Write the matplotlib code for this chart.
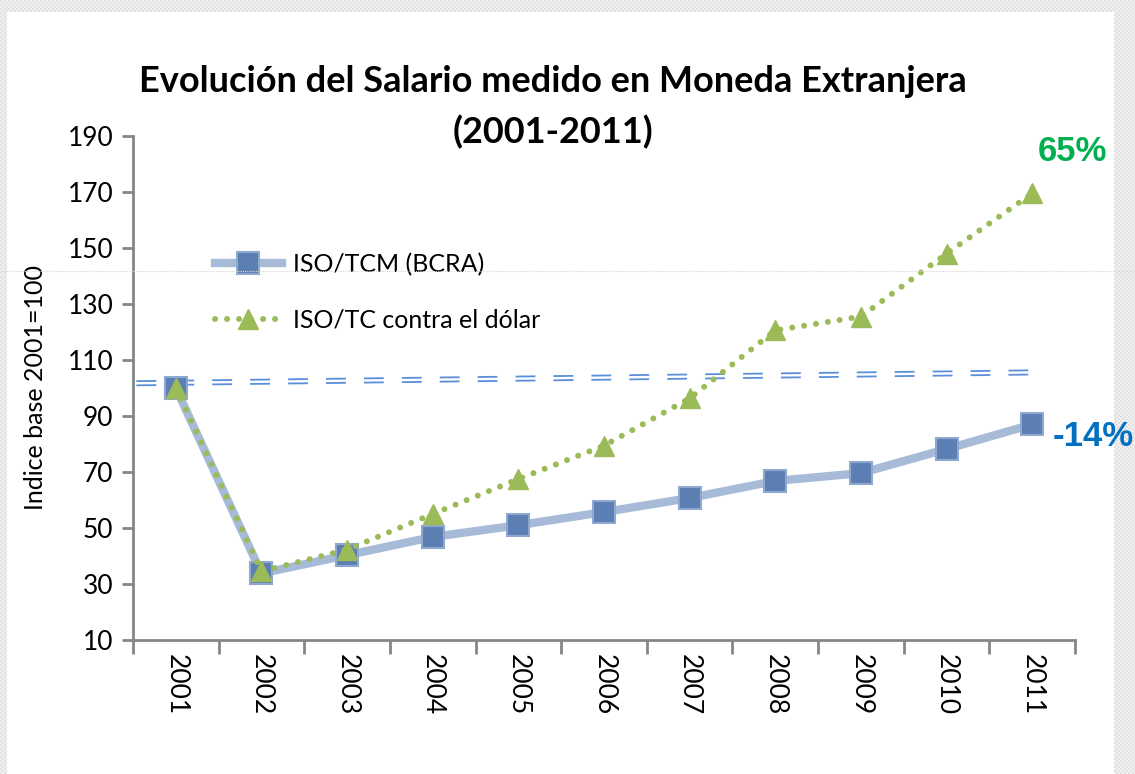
import numpy as np
import matplotlib
matplotlib.use("Agg")
import matplotlib.pyplot as plt
from matplotlib.lines import Line2D

# datos (indice base 2001=100)
anios = ["2001", "2002", "2003", "2004", "2005", "2006",
         "2007", "2008", "2009", "2010", "2011"]
iso_tcm = [100, 33.8, 40.3, 46.8, 51.0, 55.7, 60.7, 66.8, 69.6, 78.2, 87.0]
iso_tc_dolar = [100, 34.5, 42.3, 55.0, 67.5, 79.4, 96.3, 120.6, 125.5, 148.0, 169.5]
# linea de tendencia (doble, discontinua)
tend_x = [-0.46, 10.1]
tend_y = [101.7, 105.6]
etiqueta_verde = "65%"
etiqueta_azul = "-14%"

W, H = 1135, 774
fig = plt.figure(figsize=(W / 100, H / 100), dpi=100)

# borde gris cuadriculado del fondo
bg = np.ones((H, W, 3))
yy, xx = np.mgrid[0:H, 0:W]
patron = np.where(((xx // 2) + (yy // 2)) % 2 == 0, 0.88, 0.95)
borde = (xx < 7) | (yy < 12) | (xx >= 1114)
for c in range(3):
    bg[..., c] = np.where(borde, patron, 1.0)
fig.figimage(bg, xo=0, yo=0, origin="upper", zorder=-5)

fuente = ["Lato", "DejaVu Sans"]

ax = fig.add_axes([133 / W, (H - 640) / H, 942 / W, 504 / H])
ax.set_facecolor("none")
x = np.arange(len(anios))

# tendencia doble
for d in (-0.75, 0.75):
    ax.plot(tend_x, [v + d for v in tend_y], color="#5B8FD9", lw=1.3,
            ls=(0, (11, 10)), zorder=2)

ax.plot(x, iso_tcm, color="#A7BBD8", lw=6, marker="s", markersize=16,
        markerfacecolor="#5C7FB3", markeredgecolor="#8EA8CF", markeredgewidth=1.5,
        label="ISO/TCM (BCRA)", zorder=3)
ax.plot(x, iso_tc_dolar, color="#9BBB59", lw=4.3, ls=(0, (0.01, 2.0)),
        dash_capstyle="round", marker="^", markersize=14,
        markerfacecolor="#9BBB59", markeredgecolor="#9BBB59",
        label="ISO/TC contra el dólar", zorder=4)

ax.set_ylim(10, 190)
ax.set_yticks(range(10, 191, 20))
ax.set_xlim(-0.5, len(anios) - 0.5)
ax.set_xticks(np.arange(-0.5, len(anios), 1.0))
ax.set_xticklabels([])
ax.set_xticks(x, minor=True)
ax.set_xticklabels(anios, minor=True, rotation=270, fontsize=19, family=fuente)
ax.tick_params(axis="x", which="major", length=10, width=2, color="#868686")
ax.tick_params(axis="x", which="minor", length=0, pad=10)
ax.tick_params(axis="y", length=8, width=2, color="#868686", pad=6)
for lab in ax.get_yticklabels():
    lab.set_fontsize(19)
    lab.set_family(fuente)

for s in ("top", "right"):
    ax.spines[s].set_visible(False)
for s in ("left", "bottom"):
    ax.spines[s].set_color("#868686")
    ax.spines[s].set_linewidth(2)

ax.set_ylabel("Indice base 2001=100", fontsize=18, family=fuente, labelpad=15)

leg = ax.legend(loc="upper left", bbox_to_anchor=(192 / W, (H - 230) / H),
                bbox_transform=fig.transFigure, frameon=False,
                handlelength=2.7, labelspacing=1.3, handletextpad=0.45,
                prop={"family": fuente, "size": 18})

ax.text(10.47, 184.3, etiqueta_verde, color="#00B050", fontsize=25,
        fontweight="bold", family="Liberation Sans", ha="center", va="center",
        clip_on=False)
ax.text(10.71, 82.5, etiqueta_azul, color="#0070C0", fontsize=25,
        fontweight="bold", family="Liberation Sans", ha="center", va="center",
        clip_on=False)

fig.text(553 / W, 1 - 82 / H, "Evolución del Salario medido en Moneda Extranjera",
         fontsize=26, fontweight="bold", family=fuente, ha="center", va="center")
fig.text(553 / W, 1 - 132 / H, "(2001-2011)",
         fontsize=26, fontweight="bold", family=fuente, ha="center", va="center")

# linea gris tenue que cruza la imagen
fig.add_artist(Line2D([0, 1], [1 - 271 / H] * 2, transform=fig.transFigure,
                      color="#D9D9D9", lw=0.8, ls=(0, (1, 1)), zorder=10))

fig.savefig("out.png", dpi=100)
